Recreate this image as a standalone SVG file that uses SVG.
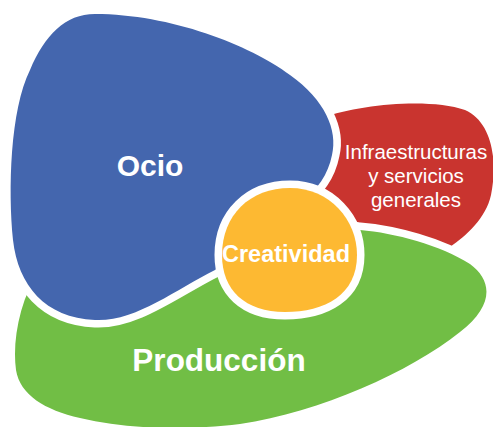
<svg xmlns="http://www.w3.org/2000/svg" width="493" height="427" viewBox="0 0 493 427">
<style>
.blob{stroke:#FFFFFF;stroke-width:15;stroke-linejoin:round;paint-order:stroke}
.lbl{font-family:"Liberation Sans",Arial,sans-serif;fill:#FFFFFF;text-anchor:middle}
.b{font-weight:bold}
</style>
<rect width="493" height="427" fill="#FFFFFF"/>
<g id="infraestructuras">
<path class="blob" fill="#C9342F" d="M 322,118 C 360,104 430,98 465,110 C 492,122 498,160 491,195 C 486,218 466,236 450,247 L 380,232 L 318,205 C 330,175 330,140 322,118 Z"/>
<text class="lbl" font-size="20.5" x="416" y="159">Infraestructuras</text>
<text class="lbl" font-size="20.5" x="416" y="183">y servicios</text>
<text class="lbl" font-size="20.5" x="416" y="207">generales</text>
</g>
<g id="produccion">
<path class="blob" fill="#71BE45" d="M 40,268 C 20,300 12,340 16,370 C 20,395 45,410 80,418 C 130,430 190,430 240,424 C 320,412 410,372 460,332 C 495,305 492,280 470,264 C 440,245 395,233 360,230 C 320,226 260,236 200,255 L 40,268 Z"/>
<text class="lbl b" font-size="31.5" x="219" y="371">Producción</text>
</g>
<g id="ocio">
<path class="blob" fill="#4466AE" d="M 95,14 C 170,14 250,45 290,75 C 325,100 338,130 332,155 C 328,175 318,188 300,205 L 250,240 L 215,270 C 175,290 135,322 95,320 C 45,318 18,285 13,240 C 8,190 10,110 30,70 C 45,35 65,14 95,14 Z"/>
<text class="lbl b" font-size="30" x="150" y="176">Ocio</text>
</g>
<g id="creatividad">
<path class="blob" fill="#FDB932" d="M 290,188 C 330,188 357,220 357,255 C 357,295 325,312 285,312 C 245,312 222,290 222,255 C 222,215 250,188 290,188 Z"/>
<text class="lbl b" font-size="23.5" x="286" y="262">Creatividad</text>
</g>
<g id="connectors"/>
</svg>
